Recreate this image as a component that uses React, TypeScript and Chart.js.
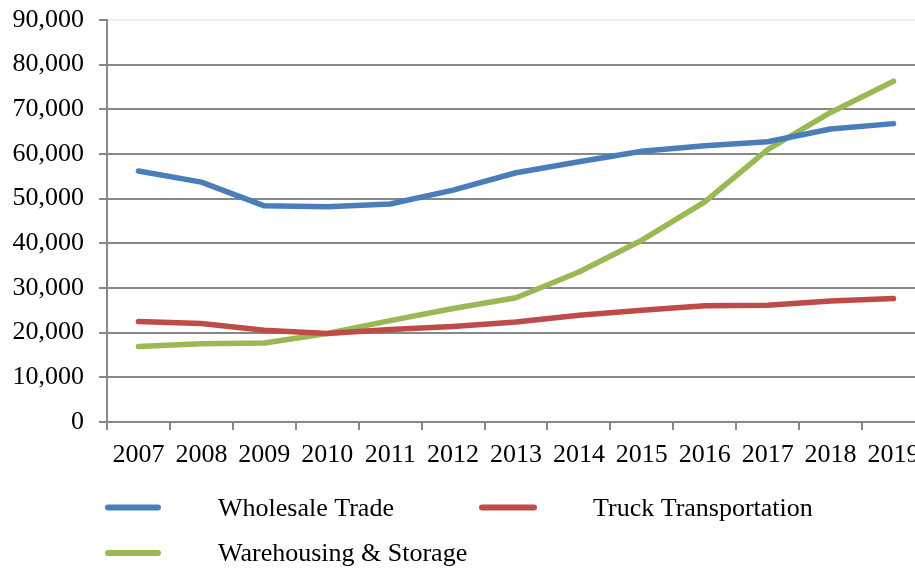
import React, { useEffect, useRef } from "react";
import { Chart, registerables } from "chart.js";

Chart.register(...registerables);

const years = ["2007", "2008", "2009", "2010", "2011", "2012", "2013", "2014", "2015", "2016", "2017", "2018", "2019"];
const wholesaleTrade = [56200, 53700, 48400, 48200, 48800, 51900, 55800, 58250, 60600, 61850, 62750, 65600, 66800];
const truckTransportation = [22500, 22050, 20550, 19800, 20700, 21400, 22400, 23900, 25000, 26000, 26150, 27100, 27650];
const warehousingStorage = [16900, 17500, 17700, 19800, 22700, 25400, 27800, 33600, 40700, 49300, 61000, 69300, 76300];
const seriesLabels = ["Wholesale Trade", "Truck Transportation", "Warehousing & Storage"];
const seriesColors = ["#4A7EBB", "#BE4B48", "#98B954"];

const FONT = "'Liberation Serif', 'Times New Roman', serif";

const legendPlugin = {
  id: "customLegend",
  afterDraw(chart: any) {
    const ctx = chart.ctx;
    const items = [
      { x1: 108, x2: 158, y: 507.5, tx: 218, i: 0 },
      { x1: 482, x2: 534, y: 507.5, tx: 593, i: 1 },
      { x1: 108, x2: 158, y: 553, tx: 218, i: 2 },
    ];
    ctx.save();
    for (const it of items) {
      const ds = chart.data.datasets[it.i];
      ctx.strokeStyle = ds.borderColor;
      ctx.lineWidth = 6;
      ctx.lineCap = "round";
      ctx.beginPath();
      ctx.moveTo(it.x1, it.y);
      ctx.lineTo(it.x2, it.y);
      ctx.stroke();
      ctx.fillStyle = "#000";
      ctx.font = `26px ${FONT}`;
      ctx.textBaseline = "alphabetic";
      ctx.textAlign = "left";
      ctx.fillText(ds.label, it.tx, it.y + 8.4);
    }
    ctx.restore();
  },
};

export default function App() {
  const ref = useRef<HTMLCanvasElement>(null);
  useEffect(() => {
    if (!ref.current) return;
    const data = [wholesaleTrade, truckTransportation, warehousingStorage];
    const chart = new Chart(ref.current, {
      type: "line",
      data: {
        labels: years,
        datasets: data.map((d, i) => ({
          label: seriesLabels[i],
          data: d,
          borderColor: seriesColors[i],
          backgroundColor: seriesColors[i],
          borderWidth: 5.5,
          pointRadius: 0,
          tension: 0,
          borderCapStyle: "round",
          borderJoinStyle: "round",
          fill: false,
        })),
      },
      options: {
        responsive: false,
        animation: false,
        layout: { padding: { left: 0, top: 20, right: 15, bottom: 0 } },
        plugins: { legend: { display: false }, tooltip: { enabled: false } },
        scales: {
          x: {
            offset: true,
            grid: {
              offset: true,
              drawOnChartArea: false,
              color: "#888888",
              lineWidth: 2,
              tickLength: 8,
            },
            border: { display: true, color: "#888888", width: 2 },
            ticks: {
              color: "#000",
              font: { family: FONT, size: 26 },
              padding: 10,
              maxRotation: 0,
              autoSkip: false,
            },
            afterFit(scale: any) {
              scale.height = 147;
              scale.paddingLeft = 0;
              scale.paddingRight = 0;
            },
          },
          y: {
            min: 0,
            max: 90000,
            ticks: {
              stepSize: 10000,
              color: "#000",
              font: { family: FONT, size: 26 },
              padding: 15,
            },
            grid: {
              color: (c: any) => (c.tick && c.tick.value === 90000 ? "#eeeeee" : "#888888"),
              lineWidth: 2,
              tickLength: 8,
              tickColor: "#888888",
            },
            border: { display: true, color: "#888888", width: 2 },
            afterFit(scale: any) {
              scale.width = 107;
              scale.paddingTop = 0;
              scale.paddingBottom = 0;
            },
          },
        },
      },
      plugins: [legendPlugin],
    });
    return () => chart.destroy();
  }, []);
  return (
    <div
      style={{
        position: "fixed",
        left: 0,
        top: 0,
        width: 915,
        height: 569,
        overflow: "hidden",
        background: "#fff",
      }}
    >
      <canvas ref={ref} width={940} height={569} style={{ display: "block" }} />
    </div>
  );
}
